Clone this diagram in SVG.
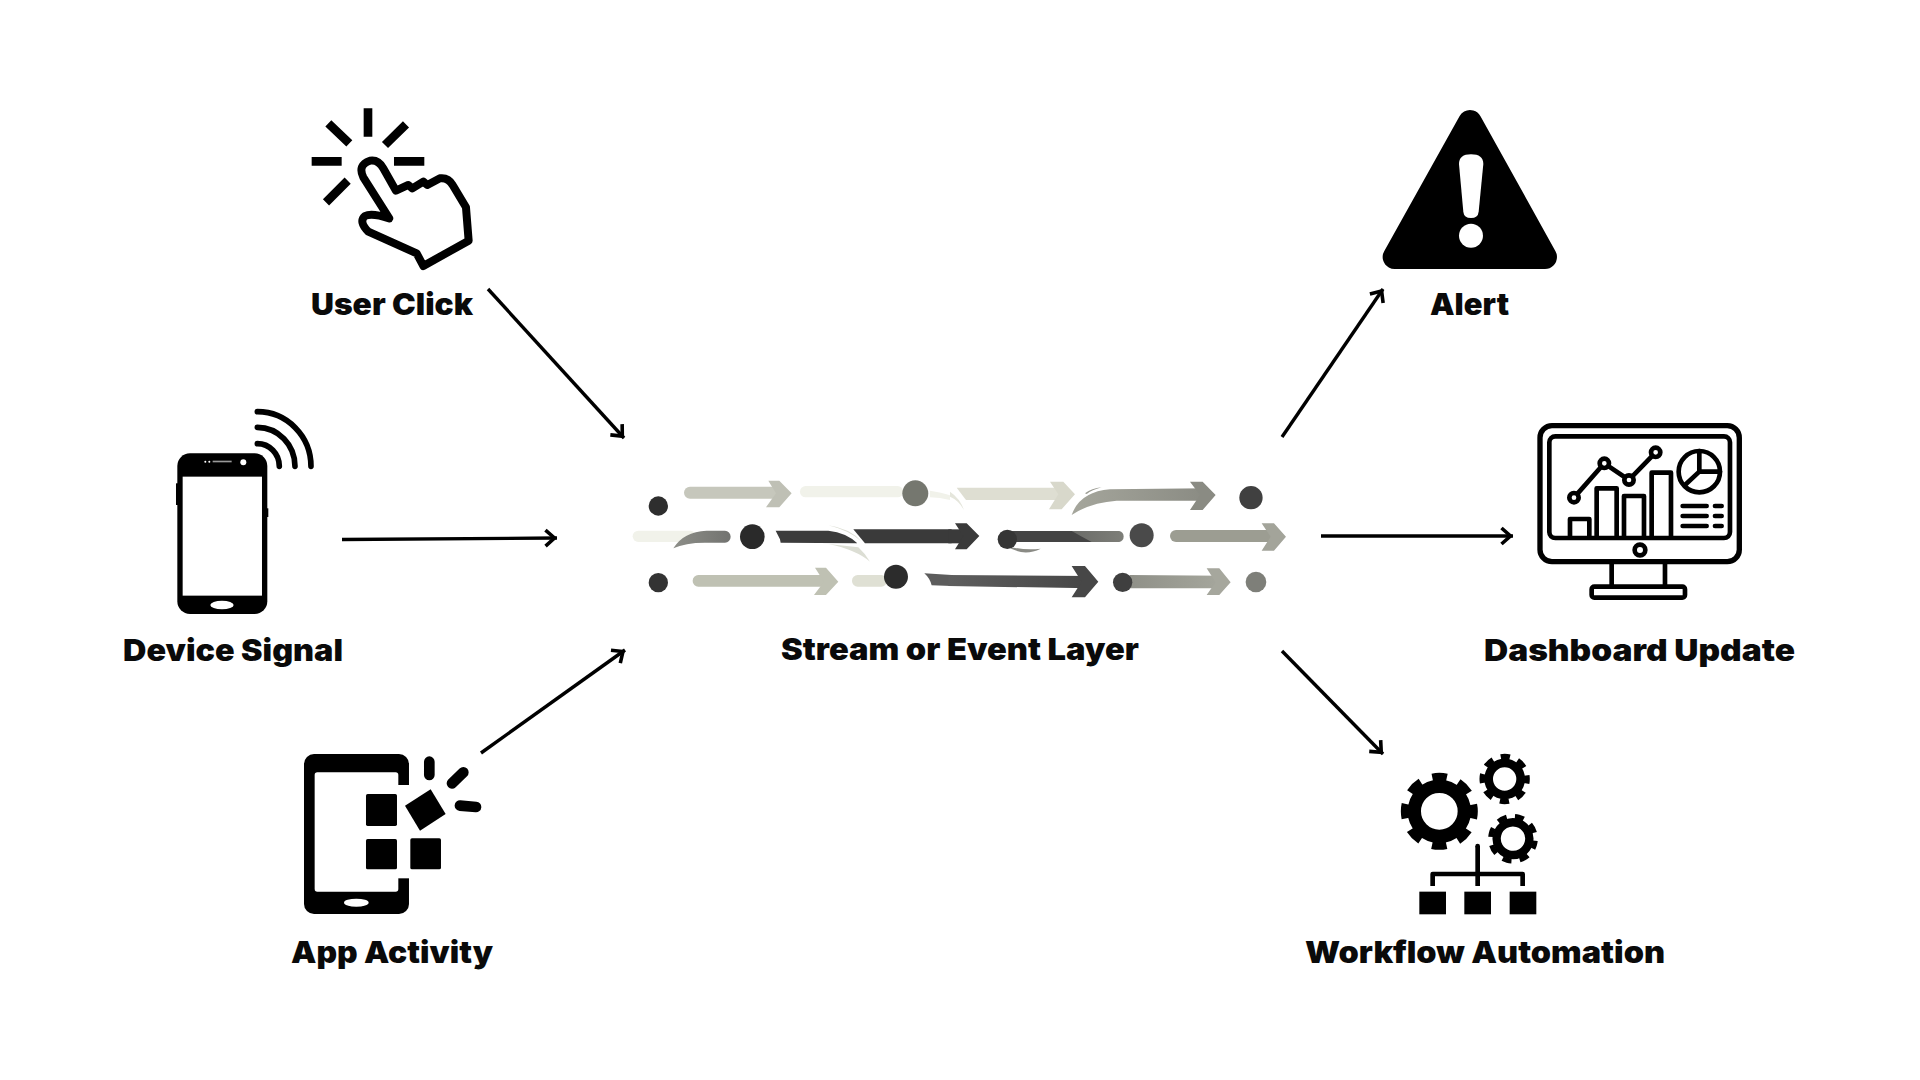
<svg xmlns="http://www.w3.org/2000/svg" width="1920" height="1080" viewBox="0 0 1920 1080">
<style>
text{font-family:"Inter","Liberation Sans",sans-serif;font-weight:900;font-size:30px;fill:#0a0a0a}
.c{fill:none;stroke:#000;stroke-width:3.4}
.k{fill:#000}.w{fill:#fff}
.l{fill:none;stroke:#000;stroke-linecap:round;stroke-linejoin:round}
.m{fill:none;stroke:#000;stroke-width:14;stroke-linejoin:round;stroke-linecap:round}
.n{fill:#fff;stroke:#000;stroke-width:14}
</style>
<defs>
<marker id="ah" markerUnits="userSpaceOnUse" markerWidth="24" markerHeight="24" refX="20.500" refY="12" orient="auto">
<path d="M9 4 L18 12 L9 20" fill="none" stroke="#000" stroke-width="3.6" stroke-linejoin="miter"/>
</marker>
<linearGradient id="g1"><stop offset="0" stop-color="#8d8e88"/><stop offset="1" stop-color="#727370"/></linearGradient>
<linearGradient id="g2"><stop offset="0" stop-color="#a5a69c"/><stop offset="1" stop-color="#8a8b83"/></linearGradient>
<linearGradient id="g3"><stop offset="0" stop-color="#555"/><stop offset="1" stop-color="#7d7e78"/></linearGradient>
<linearGradient id="g4"><stop offset="0" stop-color="#5e5e5e"/><stop offset="1" stop-color="#464646"/></linearGradient>
<linearGradient id="g5"><stop offset="0" stop-color="#8f9088"/><stop offset="1" stop-color="#a6a79d"/></linearGradient>
</defs>

<g id="connectors">
<path class="c" marker-end="url(#ah)" d="M488 289 L624 438"/>
<path class="c" marker-end="url(#ah)" d="M342 539.500 L557 538"/>
<path class="c" marker-end="url(#ah)" d="M481 753 L625 650"/>
<path class="c" marker-end="url(#ah)" d="M1282 437 L1383 289"/>
<path class="c" marker-end="url(#ah)" d="M1321 536 L1513 536"/>
<path class="c" marker-end="url(#ah)" d="M1282 651 L1383 754"/>
</g>

<g id="user-click">
<g transform="translate(280 90) scale(.3333)">
<path class="l" stroke-width="26" style="stroke-linecap:butt" d="M264 55 V140 M95 214 H185 M342 214 H433 M145 100 L208 160 M378 103 L315 165 M203 272 L138 337"/>
<path class="l" stroke-width="24" d="M328 385 L250 262 Q232 225 270 212 Q295 208 310 235 L348 302 L385 285 L397 295 L430 275 L442 285 L480 265 Q505 262 518 285 L558 352 L566 452 L430 528 L410 490 L265 425 Q235 395 255 378 Q275 368 328 385 Z"/>
</g>
<text x="311" y="315" textLength="162" lengthAdjust="spacingAndGlyphs">User Click</text>
</g>

<g id="device-signal">
<g transform="translate(100 390) scale(.3333)">
<rect class="k" x="232" y="190" width="270" height="482" rx="38"/>
<rect class="k" x="228" y="280" width="6" height="65"/>
<rect class="k" x="500" y="355" width="5" height="26"/>
<rect class="w" x="248" y="260" width="238" height="357"/>
<ellipse class="w" cx="366" cy="645" rx="35" ry="13"/>
<circle class="w" cx="430" cy="217" r="9"/>
<rect x="338" y="212" width="57" height="5" fill="#999"/>
<circle class="w" cx="316" cy="215" r="3"/><circle class="w" cx="328" cy="215" r="3"/>
<path class="l" stroke-width="17" d="M472 161 A66 68 0 0 1 538 229 M472 112 A113 117 0 0 1 585 229 M472 65 A161 164 0 0 1 633 229"/>
</g>
<text x="123" y="661" textLength="220" lengthAdjust="spacingAndGlyphs">Device Signal</text>
</g>

<g id="app-activity">
<g transform="translate(280 740) scale(.3333)">
<rect class="k" x="72" y="42" width="315" height="480" rx="30"/>
<rect class="w" x="104" y="97" width="251" height="358" rx="8"/>
<rect class="w" x="350" y="135" width="40" height="280"/>
<ellipse class="w" cx="229" cy="488" rx="37" ry="12"/>
<rect class="k" x="258" y="162" width="93" height="96" rx="5"/>
<rect class="k" x="258" y="297" width="93" height="91" rx="5"/>
<rect class="k" x="391" y="295" width="92" height="93" rx="5"/>
<polygon class="k" points="375,197 452,148 497,222 420,272"/>
<path class="l" stroke-width="32" d="M448 65 V105 M550 97 L516 130 M540 197 L588 201"/>
</g>
<text x="291" y="963" textLength="202" lengthAdjust="spacingAndGlyphs">App Activity</text>
</g>

<g id="stream-layer">
<g transform="translate(620 460) scale(.3333)">
<circle cx="115" cy="138" r="29" fill="#2e2e2e"/>
<circle cx="115" cy="368" r="29" fill="#333"/>
<rect x="192" y="80" width="298" height="36" rx="18" fill="#c6c7bc"/>
<polygon points="445,62 478,62 515,100 478,142 438,142 468,100" fill="#bfc0b5"/>
<rect x="540" y="78" width="310" height="34" rx="17" fill="#f1f2ea"/>
<path d="M930 92 Q965 97 990 106 L990 120 Q960 112 930 112 Z" fill="#f1f2ea"/>
<circle cx="886" cy="100" r="39" fill="#75776f"/>
<rect x="38" y="212" width="190" height="34" rx="17" fill="#f1f2ea"/>
<path d="M160 265 Q190 215 260 212 L315 212 A17 18 0 0 1 315 248 L255 248 Q195 248 160 265 Z" fill="url(#g1)"/>
<circle cx="397" cy="230" r="37" fill="#2a2a2a"/>
<path d="M625 196 Q690 205 725 245 Q690 212 625 196 Z" fill="#dcded4"/>
<path d="M467 212 L625 212 Q680 218 712 250 L482 248 L480 238 Z" fill="#3c3c3c"/>
<path d="M700 208 L995 208 L995 250 L735 250 Z" fill="#3a3a3a"/>
<path d="M625 252 L715 262 Q735 280 750 305 Q710 270 625 252 Z" fill="#dcded4"/>
<rect x="218" y="345" width="417" height="35" rx="17" fill="#bfc1b3"/>
<polygon points="585,323 618,323 655,365 618,405 582,405 612,365" fill="#bfc1b3"/>
<rect x="696" y="345" width="105" height="35" rx="17" fill="#dfe0d4"/>
<circle cx="828" cy="350" r="36" fill="#2c2c2c"/>
<path d="M913 340 L995 345 L995 378 L935 376 Q930 355 913 340 Z" fill="#5c5c5c"/>
</g>
<g transform="translate(950 460) scale(.3333)">
<path d="M0 95 Q30 115 42 150 Q25 120 0 110 Z" fill="#e5e6dc"/>
<path d="M20 83 L345 83 L345 120 L48 120 Z" fill="#deded2"/>
<polygon points="300,65 340,65 375,103 335,148 297,148 325,103" fill="#d8d8cb"/>
<path d="M405 100 Q425 85 455 82 Q425 90 410 102 Z" fill="#9a9b92"/>
<path d="M365 165 Q390 95 480 88 L770 85 L770 122 L500 122 Q420 128 365 165 Z" fill="url(#g2)"/>
<polygon points="720,65 758,65 797,105 758,150 720,150 750,105" fill="#8a8b83"/>
<circle cx="903" cy="113" r="35" fill="#404040"/>
<rect x="-5" y="208" width="65" height="42" fill="#3a3a3a"/>
<polygon points="15,190 50,190 88,228 50,268 15,268 40,228" fill="#3a3a3a"/>
<path d="M170 258 Q220 272 272 266 Q220 292 170 258 Z" fill="#8a8b85"/>
<path d="M172 213 L508 213 A17 17 0 0 1 508 246 L172 246 Z" fill="url(#g3)"/>
<path d="M172 213 L365 213 Q395 230 425 246 L172 246 Z" fill="#444"/>
<circle cx="172" cy="238" r="29" fill="#353535"/>
<circle cx="575" cy="226" r="36" fill="#4a4a4a"/>
<rect x="660" y="210" width="325" height="36" rx="18" fill="#9c9d92"/>
<polygon points="935,190 972,190 1008,230 972,272 935,272 962,230" fill="#a3a49a"/>
<path d="M-5 345 L420 348 L420 385 L-5 378 Z" fill="url(#g4)"/>
<polygon points="365,318 405,318 445,365 405,412 365,412 395,365" fill="#474747"/>
<path d="M540 345 L820 347 L820 385 L540 385 Z" fill="url(#g5)"/>
<polygon points="770,325 808,325 842,367 808,405 770,405 797,367" fill="#a6a79d"/>
<circle cx="518" cy="367" r="29" fill="#3f3f3f"/>
<circle cx="918" cy="366" r="31" fill="#7e7f79"/>
</g>
<text x="781" y="660" textLength="358" lengthAdjust="spacingAndGlyphs">Stream or Event Layer</text>
</g>

<g id="alert">
<g transform="translate(1360 90) scale(.3333)">
<path d="M330 96 L104 501 L555 501 Z" fill="#000" stroke="#000" stroke-width="72" stroke-linejoin="round"/>
<path class="w" d="M297 222 Q297 193 333 193 Q370 193 370 222 L356 365 Q354 384 333 384 Q312 384 310 365 Z"/>
<circle class="w" cx="333" cy="437" r="36"/>
</g>
<text x="1430" y="315" textLength="79" lengthAdjust="spacingAndGlyphs">Alert</text>
</g>

<g id="dashboard-update">
<g transform="translate(1520 410) scale(.3333)">
<rect x="60" y="47" width="598" height="408" rx="36" style="fill:none;stroke:#000;stroke-width:16"/>
<rect x="88" y="79" width="542" height="305" rx="18" class="m"/>
<path class="m" d="M150 380 V327 H208 V380 M230 380 V235 H290 V380 M312 380 V258 H372 V380 M395 380 V188 H453 V380"/>
<path class="m" d="M162 263 L253 160 L327 210 L407 127"/>
<circle class="n" cx="162" cy="263" r="14"/><circle class="n" cx="253" cy="160" r="14"/><circle class="n" cx="327" cy="210" r="14"/><circle class="n" cx="407" cy="127" r="14"/>
<circle cx="538" cy="185" r="62" class="m"/>
<path class="m" d="M538 123 V185 H600 M538 185 L495 225"/>
<path class="m" d="M488 288 H560 M585 288 H605 M488 318 H560 M585 318 H605 M488 348 H560 M585 348 H605"/>
<circle class="n" cx="360" cy="420" r="16"/>
<path class="m" style="stroke-linecap:butt" d="M275 460 V525 M435 460 V525"/>
<rect class="m" x="215" y="530" width="280" height="33" rx="8"/>
</g>
<text x="1484" y="661" textLength="311" lengthAdjust="spacingAndGlyphs">Dashboard Update</text>
</g>

<g id="workflow-automation">
<g transform="translate(1380 740) scale(.3333)">
<circle cx="178" cy="214" r="75" fill="none" stroke="#000" stroke-width="40"/>
<circle cx="178" cy="214" r="104" fill="none" stroke="#000" stroke-width="23" stroke-dasharray="44 37.680" stroke-dashoffset="22"/>
<g transform="translate(374 117)">
<circle r="48" fill="none" stroke="#000" stroke-width="26"/>
<circle r="67" fill="none" stroke="#000" stroke-width="17" stroke-dasharray="28 24.620" stroke-dashoffset="14"/>
</g>
<g transform="translate(399 296) rotate(15)">
<circle r="49" fill="none" stroke="#000" stroke-width="25"/>
<circle r="67" fill="none" stroke="#000" stroke-width="15" stroke-dasharray="28 24.620" stroke-dashoffset="14"/>
</g>
<path class="l" stroke-width="14" style="stroke-linecap:butt" d="M293 438 V318"/>
<circle class="k" cx="293" cy="318" r="7"/>
<path class="l" stroke-width="14" style="stroke-linecap:butt" d="M158 438 V402 H428 V438"/>
<rect class="k" x="118" y="455" width="80" height="68"/>
<rect class="k" x="253" y="455" width="80" height="68"/>
<rect class="k" x="389" y="455" width="80" height="68"/>
</g>
<text x="1305" y="963" textLength="360" lengthAdjust="spacingAndGlyphs">Workflow Automation</text>
</g>
</svg>
